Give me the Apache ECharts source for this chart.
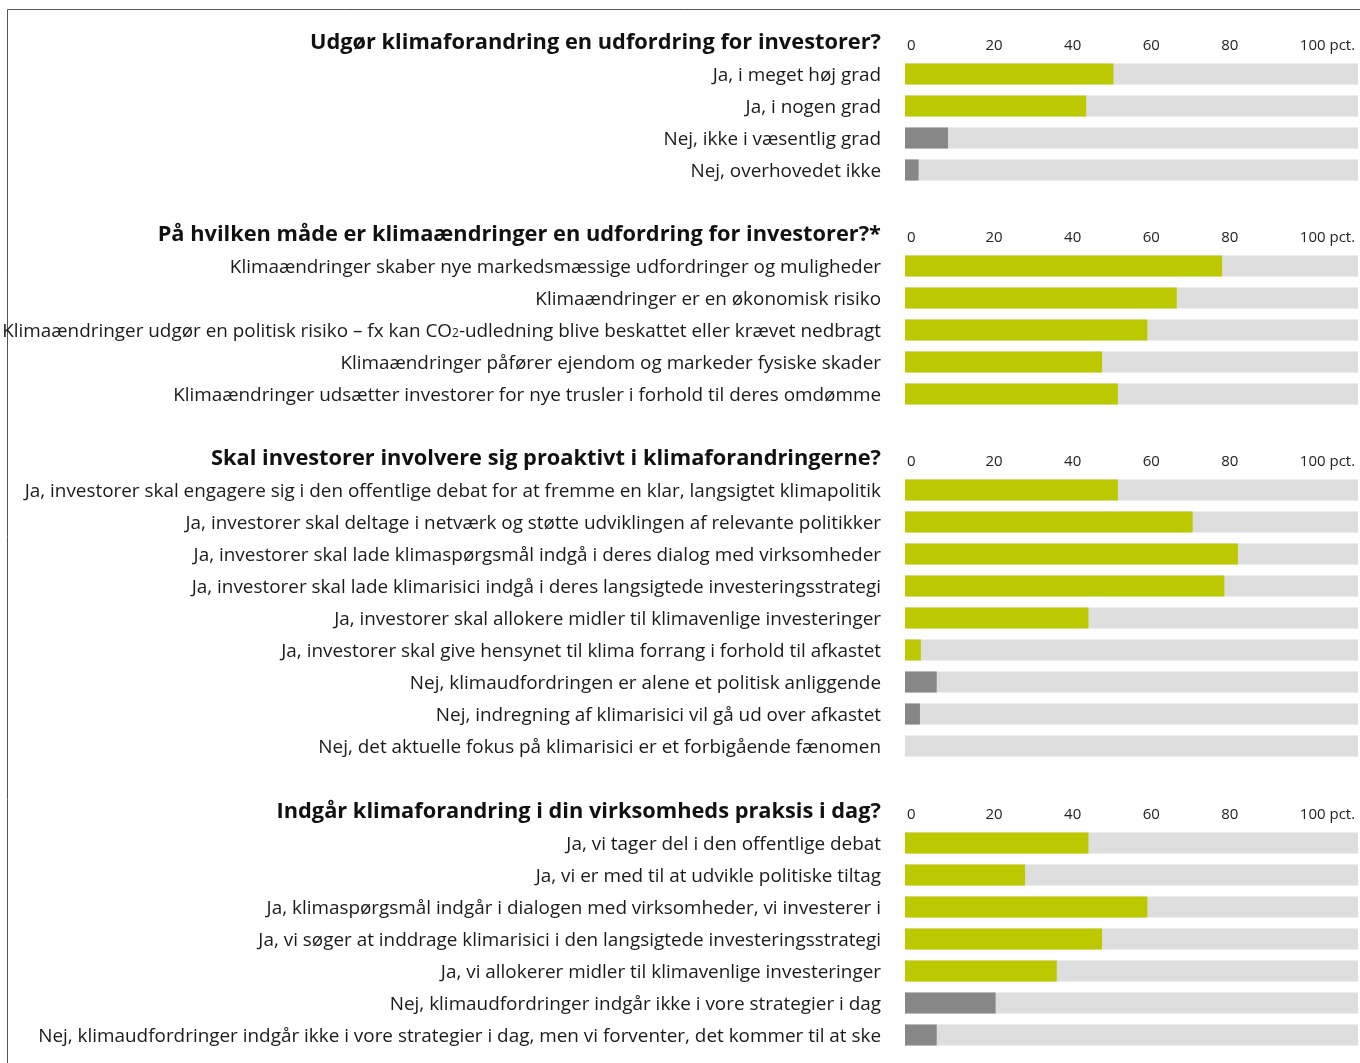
<!DOCTYPE html>
<html>
<head>
<meta charset="utf-8">
<script src="https://cdn.jsdelivr.net/npm/echarts@6/dist/echarts.min.js"></script>
<style>
  html, body { margin: 0; padding: 0; background: #fff; }
  #chart { width: 1360px; height: 1063px; }
</style>
</head>
<body>
<div id="chart"></div>
<script>
// spørgsmål (titler)
var titles = [
  'Udgør klimaforandring en udfordring for investorer?',
  'På hvilken måde er klimaændringer en udfordring for investorer?*',
  'Skal investorer involvere sig proaktivt i klimaforandringerne?',
  'Indgår klimaforandring i din virksomheds praksis i dag?'
]

var q1Labels = ['Ja, i meget høj grad', 'Ja, i nogen grad', 'Nej, ikke i væsentlig grad', 'Nej, overhovedet ikke']
var q1Values = [46, 40, 9.5, 3]

var q2Labels = [
  'Klimaændringer skaber nye markedsmæssige udfordringer og muligheder',
  'Klimaændringer er en økonomisk risiko',
  'Klimaændringer udgør en politisk risiko – fx kan CO₂-udledning blive beskattet eller krævet nedbragt',
  'Klimaændringer påfører ejendom og markeder fysiske skader',
  'Klimaændringer udsætter investorer for nye trusler i forhold til deres omdømme'
]
var q2Values = [70, 60, 53.5, 43.5, 47]

var q3Labels = [
  'Ja, investorer skal engagere sig i den offentlige debat for at fremme en klar, langsigtet klimapolitik',
  'Ja, investorer skal deltage i netværk og støtte udviklingen af relevante politikker',
  'Ja, investorer skal lade klimaspørgsmål indgå i deres dialog med virksomheder',
  'Ja, investorer skal lade klimarisici indgå i deres langsigtede investeringsstrategi',
  'Ja, investorer skal allokere midler til klimavenlige investeringer',
  'Ja, investorer skal give hensynet til klima forrang i forhold til afkastet',
  'Nej, klimaudfordringen er alene et politisk anliggende',
  'Nej, indregning af klimarisici vil gå ud over afkastet',
  'Nej, det aktuelle fokus på klimarisici er et forbigående fænomen'
]
var q3Values = [47, 63.5, 73.5, 70.5, 40.5, 3.5, 7, 3.3, 0]

var q4Labels = [
  'Ja, vi tager del i den offentlige debat',
  'Ja, vi er med til at udvikle politiske tiltag',
  'Ja, klimaspørgsmål indgår i dialogen med virksomheder, vi investerer i',
  'Ja, vi søger at inddrage klimarisici i den langsigtede investeringsstrategi',
  'Ja, vi allokerer midler til klimavenlige investeringer',
  'Nej, klimaudfordringer indgår ikke i vore strategier i dag',
  'Nej, klimaudfordringer indgår ikke i vore strategier i dag, men vi forventer, det kommer til at ske'
]
var q4Values = [40.5, 26.5, 53.5, 43.5, 33.5, 20, 7]

var tickValues = [0, 20, 40, 60, 80, 100]

var panels = [
  { labels: q1Labels, values: q1Values, top: 58 },
  { labels: q2Labels, values: q2Values, top: 250 },
  { labels: q3Labels, values: q3Values, top: 474 },
  { labels: q4Labels, values: q4Values, top: 827 }
]

var rowH = 32
var fontFam = '"Open Sans", "Liberation Sans", Arial, sans-serif'
var green = '#bdc900'
var grey = '#878787'

var chartDom = document.getElementById('chart')
var myChart = echarts.init(chartDom, null, { renderer: 'canvas' })

var grid = [], xAxis = [], yAxis = [], series = [], title = []

panels.forEach(function (p, i) {
  grid.push({
    left: 905, right: 2, top: p.top, height: p.labels.length * rowH,
    containLabel: false, outerBoundsMode: 'none'
  })

  // akse til søjlerne (0-100 pct.)
  xAxis.push({
    type: 'value', gridIndex: i, min: 0, max: 100, show: false
  })
  // akse kun til teksterne foroven
  xAxis.push({
    type: 'value', gridIndex: i, position: 'top', min: -0.5, max: 114.8,
    axisLine: { show: false }, axisTick: { show: false }, splitLine: { show: false },
    axisLabel: {
      customValues: tickValues,
      align: 'left',
      margin: 5,
      fontSize: 15,
      fontFamily: fontFam,
      color: '#222',
      formatter: function (v) { return v === 100 ? '100 pct.' : String(v) }
    }
  })

  yAxis.push({
    type: 'category', gridIndex: i, inverse: true, data: p.labels,
    axisLine: { show: false }, axisTick: { show: false },
    axisLabel: {
      margin: 24, fontSize: 18.9, fontFamily: fontFam, color: '#1a1a1a',
      padding: [4, 0, 0, 0],
      // CO2 med lille 2-tal som i originalen
      formatter: function (v) { return v.replace('CO₂', 'CO{sub|2}') },
      rich: { sub: { fontSize: 12, fontFamily: fontFam, color: '#1a1a1a', padding: [4, 0, 0, 0] } }
    }
  })

  series.push({
    type: 'bar',
    xAxisIndex: i * 2,
    yAxisIndex: i,
    barWidth: 21,
    showBackground: true,
    backgroundStyle: { color: '#dedede' },
    data: p.values.map(function (v, k) {
      return { value: v, itemStyle: { color: p.labels[k].indexOf('Nej') === 0 ? grey : green } }
    })
  })

  title.push({
    text: titles[i],
    right: 474,
    top: p.top - 31,
    textStyle: { fontSize: 21.8, fontWeight: 'bold', fontFamily: fontFam, color: '#111' }
  })
})

var option = {
  animation: false,
  title: title,
  grid: grid,
  xAxis: xAxis,
  yAxis: yAxis,
  series: series,
  graphic: [
    {
      type: 'polyline',
      shape: { points: [[7.5, 1063], [7.5, 9.5], [1360, 9.5]] },
      style: { stroke: '#555', lineWidth: 1, fill: null }
    }
  ]
}
myChart.setOption(option, true)
</script>
</body>
</html>
